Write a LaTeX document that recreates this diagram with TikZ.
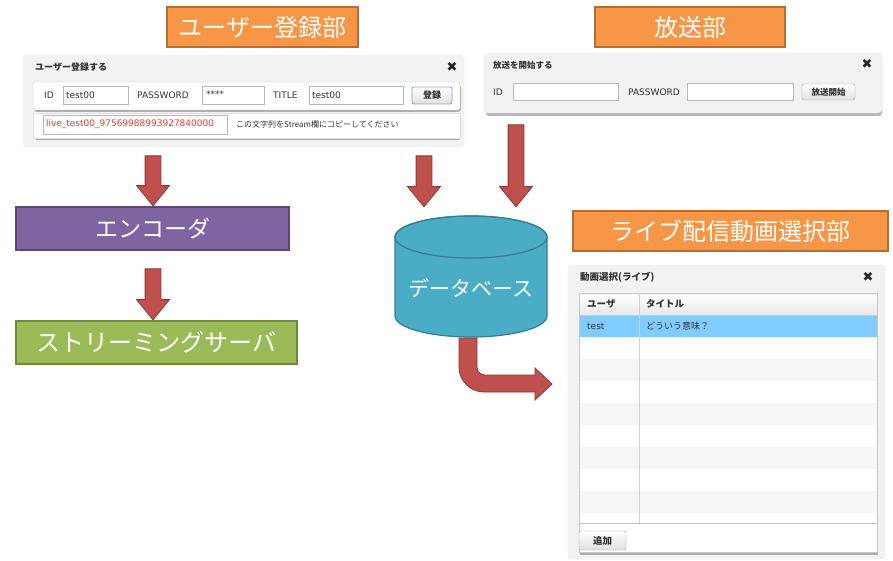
\documentclass[tikz,border=0pt]{standalone}
\usepackage{fontspec}
\setmainfont{DejaVu Sans}
\newfontfamily\jp{Noto Sans CJK JP}
\newfontfamily\dv{DejaVu Sans}
\usetikzlibrary{shapes.arrows}
\newcommand\myfs[1]{\fontsize{#1}{#1}\selectfont}
\definecolor{org}{HTML}{F79646}
\definecolor{orgB}{HTML}{B66D31}
\definecolor{purp}{HTML}{8064A2}
\definecolor{purpB}{HTML}{5C4776}
\definecolor{grn}{HTML}{9BBB59}
\definecolor{grnB}{HTML}{71893E}
\definecolor{dbc}{HTML}{4BACC6}
\definecolor{dbB}{HTML}{357D91}
\definecolor{arrC}{HTML}{C0504D}
\definecolor{arrB}{HTML}{8C3836}
\definecolor{panelc}{HTML}{F2F2F2}
\definecolor{selc}{HTML}{80CBFF}
\definecolor{rowg}{HTML}{F5F5F5}
\definecolor{txt}{HTML}{333333}
\definecolor{redt}{HTML}{FF3333}
\definecolor{btnblue}{HTML}{7EA6D6}
\begin{document}
\begin{tikzpicture}[x=1pt,y=-1pt,
  titlebox/.style={draw=orgB, fill=org, line width=1.2pt, text=white, font=\jp\myfs{24}, inner sep=0pt},
  blockbox/.style={line width=1.2pt, text=white, inner sep=0pt},
  panel/.style={fill=panelc, draw=black!8, rounded corners=4pt, inner sep=0pt},
  rowpanel/.style={fill=white, draw=black!22, rounded corners=2pt, inner sep=0pt},
  softshadow/.style={fill=black, opacity=0.28, rounded corners=3pt},
  field/.style={fill=white, draw=black!28, inner sep=0pt},
  btn/.style={draw=black!38, rounded corners=2pt, top color=white, bottom color=black!12, inner sep=0pt, text=txt},
  wtitle/.style={font=\jp\bfseries\myfs{9}, text=txt, anchor=west, inner sep=0pt},
  lbl/.style={font=\dv\myfs{9}, text=txt, anchor=west, inner sep=0pt},
  closex/.style={font=\dv\bfseries\myfs{13}, text=black!85, inner sep=0pt},
  downarrow/.style={single arrow, draw=arrB, fill=arrC, line width=0.8pt, rotate=-90, inner sep=7.5pt, minimum width=32pt, single arrow head extend=8.5pt, single arrow tip angle=78, single arrow head indent=0pt}
]
\useasboundingbox[fill=white] (0,0) rectangle (893,561);

% ---------- section titles ----------
\node[titlebox, minimum width=191pt, minimum height=40pt] (t1) at (262.5,27) {ユーザー登録部};
\node[titlebox, minimum width=190pt, minimum height=40pt] (t2) at (690,27) {放送部};
\node[titlebox, minimum width=315pt, minimum height=40pt] (t3) at (730.5,231) {ライブ配信動画選択部};

% ---------- window 1 : user registration ----------
\node[panel, minimum width=441pt, minimum height=92pt] (w1) at (243.5,101) {};
\node[wtitle] (w1t) at (35,67) {ユーザー登録する};
\node[closex] (w1x) at (452,67) {✖};
\fill[softshadow] (34,85) rectangle (461,112);
\node[rowpanel, minimum width=427pt, minimum height=28pt] (r1) at (246.5,96) {};
\fill[softshadow] (34,116) rectangle (461,140);
\node[fill=white, draw=black!12, inner sep=0pt, minimum width=427pt, minimum height=25pt] (r2) at (246.5,125.5) {};
\node[lbl] (l1) at (44,95) {ID};
\node[field, minimum width=65pt, minimum height=18pt] (f1) at (95.5,95) {};
\node[lbl] (f1t) at ([xshift=3pt]f1.west) {test00};
\node[lbl] (l2) at (137,95) {PASSWORD};
\node[field, minimum width=62pt, minimum height=18pt] (f2) at (233,95) {};
\node[lbl, anchor=north west] (f2t) at ([xshift=4pt,yshift=-4.5pt]f2.north west) {****};
\node[lbl] (l3) at (273,95) {TITLE};
\node[field, minimum width=94pt, minimum height=18pt] (f3) at (356,95) {};
\node[lbl] (f3t) at ([xshift=3pt]f3.west) {test00};
\node[btn, draw=btnblue, line width=0.8pt, minimum width=40pt, minimum height=17pt, font=\jp\bfseries\myfs{9}] (b1) at (432,95.5) {登録};
\node[field, minimum width=184pt, minimum height=19pt] (f4) at (135,124.5) {};
\node[lbl, text=redt] (f4t) at ([xshift=3pt]f4.west) {live\_test00\_97569988993927840000};
\node[font=\jp\myfs{8}, text=txt, anchor=west, inner sep=0pt] (hint) at (236,124) {この文字列をStream欄にコピーしてください};

% ---------- window 2 : broadcast ----------
\fill[softshadow] (486,57) rectangle (882,116);
\node[panel, minimum width=398pt, minimum height=60pt] (w2) at (683,83) {};
\node[wtitle, font=\jp\bfseries\myfs{8.5}] (w2t) at (493,65) {放送を開始する};
\node[closex] (w2x) at (867,64) {✖};
\node[lbl] (l4) at (493,92) {ID};
\node[field, minimum width=105pt, minimum height=17pt] (f5) at (565.5,91.5) {};
\node[lbl] (l5) at (628,92) {PASSWORD};
\node[field, minimum width=106pt, minimum height=17pt] (f6) at (740,91.5) {};
\node[btn, minimum width=53pt, minimum height=16pt, font=\jp\bfseries\myfs{8.5}] (b2) at (828.5,92) {放送開始};

% ---------- window 3 : live video selection ----------
\node[panel, minimum width=317pt, minimum height=294pt] (w3) at (726.5,412) {};
\node[wtitle, font=\jp\bfseries\myfs{9.5}] (w3t) at (580,277) {動画選択(ライブ)};
\node[closex] (w3x) at (868,277) {✖};
\fill[softshadow, rounded corners=0pt] (580,297) rectangle (878,555);
\node[fill=white, draw=black!22, inner sep=0pt, minimum width=298pt, minimum height=259pt] (tbl) at (728,422.5) {};
\node[top color=white, bottom color=black!9, draw=black!20, inner sep=0pt, minimum width=298pt, minimum height=22pt] (hdr) at (728,304) {};
\node[fill=selc, inner sep=0pt, minimum width=298pt, minimum height=21pt] (sel) at (728,326.5) {};
\fill[rowg] (579.5,359) rectangle (876.5,381);
\fill[rowg] (579.5,403) rectangle (876.5,425);
\fill[rowg] (579.5,447) rectangle (876.5,469);
\fill[rowg] (579.5,491) rectangle (876.5,513);
\draw[black!18] (639,293) -- (639,523);
\draw[black!25] (579,523) -- (877,523);
\draw[black!22] (tbl.north west) rectangle (tbl.south east);
\node[font=\jp\bfseries\myfs{9.5}, text=txt, anchor=west, inner sep=0pt] (h1) at (587,304) {ユーザ};
\node[font=\jp\bfseries\myfs{9.5}, text=txt, anchor=west, inner sep=0pt] (h2) at (646,304) {タイトル};
\node[lbl] (c1) at (587,326.5) {test};
\node[font=\jp\myfs{9}, text=txt, anchor=west, inner sep=0pt] (c2) at (646,326.5) {どういう意味？};
\node[btn, minimum width=47pt, minimum height=19pt, font=\jp\bfseries\myfs{9.5}] (b3) at (602.5,540.5) {追加};

% ---------- blocks ----------
\node[blockbox, draw=purpB, fill=purp, minimum width=273pt, minimum height=43pt, font=\jp\myfs{23}] (enc) at (152.5,228.5) {エンコーダ};
\node[blockbox, draw=grnB, fill=grn, minimum width=281pt, minimum height=43pt, font=\jp\myfs{24}] (srv) at (156.5,342.5) {ストリーミングサーバ};

% database cylinder
\filldraw[fill=dbc, draw=dbB, line width=1.2pt]
  (395,237) -- (395,316) arc[start angle=180, end angle=0, x radius=76, y radius=21]
  -- (547,237) arc[start angle=0, end angle=-180, x radius=76, y radius=21] -- cycle;
\draw[dbB, line width=1.2pt] (471,237) ellipse[x radius=76, y radius=21];
\node[font=\jp\myfs{21}, text=white, inner sep=0pt] (db) at (471,288) {データベース};

% ---------- arrows ----------
\node[downarrow, minimum height=50pt] (a1) at (153,176) {};
\node[downarrow, minimum height=51pt] (a2) at (153,289.5) {};
\node[downarrow, minimum height=51pt] (a3) at (424,176.5) {};
\node[downarrow, minimum height=82pt] (a4) at (516,161) {};
\filldraw[fill=arrC, draw=arrB, line width=0.8pt]
  (459,338) -- (459,367) arc[start angle=180, end angle=90, radius=25]
  -- (535,392) -- (535,400) -- (552,384) -- (535,368) -- (535,375)
  -- (485,375) arc[start angle=90, end angle=180, radius=8]
  -- (477,338) -- cycle;
\end{tikzpicture}
\end{document}
